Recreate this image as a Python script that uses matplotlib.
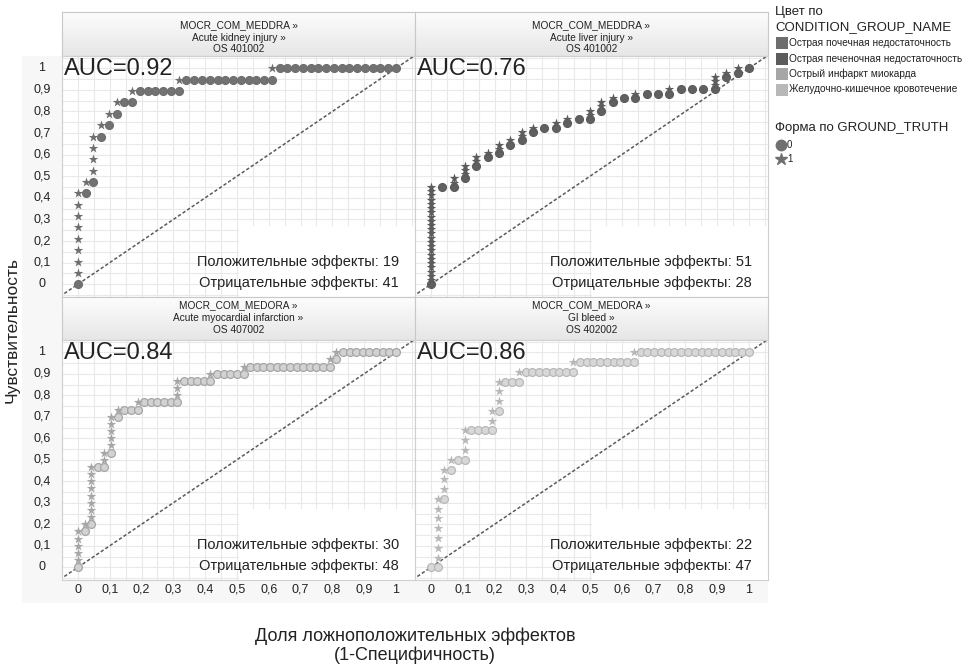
import numpy as np
import matplotlib
matplotlib.use("Agg")
import matplotlib.pyplot as plt
from matplotlib.patches import Rectangle
from matplotlib.lines import Line2D
from matplotlib.colors import LinearSegmentedColormap

plt.rcParams["font.family"] = ["Liberation Sans", "DejaVu Sans"]

# ---- data -------------------------------------------------------------
# Ranked ground truth of each condition, as (positives, negatives) runs
# in descending score order.
kidney_steps = [(8, 1), (1, 1), (4, 1), (1, 1), (1, 1), (1, 2), (1, 6), (1, 12), (1, 16)]
liver_steps = [(23, 2), (2, 1), (3, 1), (2, 1), (1, 1), (2, 1), (1, 1), (2, 1), (1, 2),
               (1, 1), (1, 2), (2, 1), (2, 1), (1, 2), (1, 3), (1, 4), (3, 1), (1, 1), (1, 1)]
mi_steps = [(5, 1), (1, 1), (8, 2), (2, 1), (5, 1), (1, 3), (1, 6), (3, 5), (1, 5),
            (1, 13), (1, 1), (1, 9)]
gi_steps = [(0, 1), (7, 1), (3, 1), (1, 2), (3, 4), (2, 1), (3, 3), (1, 8), (1, 9), (1, 17)]

panel_steps = [kidney_steps, liver_steps, mi_steps, gi_steps]
auc_values = [0.92, 0.76, 0.84, 0.86]
panel_titles = [
    ["MOCR_COM_MEDDRA \u00bb", "Acute kidney injury \u00bb", "OS 401002"],
    ["MOCR_COM_MEDDRA \u00bb", "Acute liver injury \u00bb", "OS 401002"],
    ["MOCR_COM_MEDORA \u00bb", "Acute myocardial infarction \u00bb", "OS 407002"],
    ["MOCR_COM_MEDORA \u00bb", "GI bleed \u00bb", "OS 402002"],
]
group_names = ["Острая почечная недостаточность", "Острая печеночная недостаточность",
               "Острый инфаркт миокарда", "Желудочно-кишечное кровотечение"]
group_colors = ["#6e6e6e", "#5c5c5c", "#a6a6a6", "#b8b8b8"]
circle_faces = ["#727272", "#606060", "#d2d2d2", "#d8d8d8"]
tick_values = [0, 0.1, 0.2, 0.3, 0.4, 0.5, 0.6, 0.7, 0.8, 0.9, 1]
tick_labels = ["0", "0,1", "0,2", "0,3", "0,4", "0,5", "0,6", "0,7", "0,8", "0,9", "1"]

# ---- figure -----------------------------------------------------------
W, H = 969, 664
fig = plt.figure(figsize=(W / 100, H / 100), dpi=100)


def px_axes(x0, y0, x1, y1):
    return fig.add_axes([x0 / W, 1 - y1 / H, (x1 - x0) / W, (y1 - y0) / H])


def ftext(x, y, s, **kw):
    fig.text(x / W, 1 - y / H, s, **kw)


def roc_points(steps):
    n_pos = sum(p for p, n in steps)
    n_neg = sum(n for p, n in steps)
    tp = fp = 0
    pts = [(0.0, 0.0, 0)]
    for p, n in steps:
        for _ in range(p):
            tp += 1
            pts.append((fp / n_neg, tp / n_pos, 1))
        for _ in range(n):
            fp += 1
            pts.append((fp / n_neg, tp / n_pos, 0))
    return np.array(pts), n_pos, n_neg


# light backdrop behind the tick label strips
bg = fig.add_axes([0, 0, 1, 1], zorder=-5)
bg.set_xlim(0, W)
bg.set_ylim(H, 0)
bg.axis("off")
bg.add_patch(Rectangle((22, 56), 40, 547, facecolor="#f7f7f7", edgecolor="none"))
bg.add_patch(Rectangle((62, 580), 706, 23, facecolor="#f7f7f7", edgecolor="none"))

col_x = [(62, 415), (415, 768)]
row_y = [((12, 56), (56, 297)), ((297, 340), (340, 580))]
title_pos = [(0.70, 0.42, 0.15), (0.80, 0.52, 0.24)]
grad = np.linspace(0, 1, 64).reshape(-1, 1)
hdr_cmap = LinearSegmentedColormap.from_list("hdr", ["#fdfdfd", "#e6e6e6"])

for i in range(4):
    r, c = divmod(i, 2)
    x0, x1 = col_x[c]
    (h0, h1), (p0, p1) = row_y[r]

    # facet header
    hax = px_axes(x0, h0, x1, h1)
    hax.imshow(grad, aspect="auto", cmap=hdr_cmap, extent=(0, 1, 0, 1), origin="upper")
    hax.set_xticks([])
    hax.set_yticks([])
    for s in hax.spines.values():
        s.set_color("#c8c8c8")
        s.set_linewidth(0.8)
    for j, line in enumerate(panel_titles[i]):
        hax.text(0.5, title_pos[r][j], line, ha="center", va="center",
                 fontsize=7.3, color="#222222", transform=hax.transAxes)

    # plot area
    ax = px_axes(x0, p0, x1, p1)
    ax.set_xlim(-0.05, 1.06)
    ax.set_ylim(-0.059, 1.057)
    grid = np.arange(-0.05, 1.07, 0.05)
    ax.set_xticks(grid)
    ax.set_yticks(grid)
    ax.tick_params(length=0, labelbottom=False, labelleft=False)
    ax.grid(True, color="#e9e9e9", linewidth=0.8)
    ax.set_axisbelow(True)
    for s in ax.spines.values():
        s.set_color("#d0d0d0")
        s.set_linewidth(0.8)

    ax.add_patch(Rectangle((0.5, 0.0), 0.5, 0.295, transform=ax.transAxes,
                           facecolor="white", edgecolor="none", zorder=1))
    ax.plot([-0.1, 1.1], [-0.1, 1.1], linestyle=(0, (2.2, 1.4)), color="#5a5a5a",
            linewidth=1.1, zorder=2)

    pts, n_pos, n_neg = roc_points(panel_steps[i])
    neg = pts[pts[:, 2] == 0]
    pos = pts[pts[:, 2] == 1]
    ax.scatter(neg[:, 0], neg[:, 1], s=32, marker="o", facecolor=circle_faces[i],
               edgecolor=group_colors[i], linewidth=0.9, zorder=3)
    ax.scatter(pos[:, 0], pos[:, 1], s=52, marker="*", color=group_colors[i],
               linewidth=0, zorder=4)

    ax.text(-0.045, 0.995, f"AUC={auc_values[i]:.2f}", fontsize=17, color="#222222",
            ha="left", va="center", zorder=5)
    ax.text(0.955, 0.145, f"Положительные эффекты: {n_pos}", transform=ax.transAxes,
            ha="right", va="center", fontsize=10.5, color="#222222", zorder=5)
    ax.text(0.955, 0.058, f"Отрицательные эффекты: {n_neg}", transform=ax.transAxes,
            ha="right", va="center", fontsize=10.5, color="#222222", zorder=5)

    if c == 0:
        for v, lab in zip(tick_values, tick_labels):
            ax.text((42 - x0) / (x1 - x0), v, lab, transform=ax.get_yaxis_transform(),
                    ha="center", va="center", fontsize=9, color="#222222")
    if r == 1:
        for v, lab in zip(tick_values, tick_labels):
            ax.text(v, -(590 - p1) / (p1 - p0), lab, transform=ax.get_xaxis_transform(),
                    ha="center", va="center", fontsize=9, color="#222222")

# axis titles
ftext(12, 330, "Чувствительность", rotation=90, ha="center", va="center",
      fontsize=12.5, color="#222222")
ftext(415, 636, "Доля ложноположительных эффектов", ha="center", va="center",
      fontsize=13, color="#222222")
ftext(415, 655, "(1-Специфичность)", ha="center", va="center",
      fontsize=13, color="#222222")

# legends
ftext(775, 12, "Цвет по", ha="left", va="center", fontsize=9.5, color="#222222")
ftext(775, 27, "CONDITION_GROUP_NAME", ha="left", va="center", fontsize=9.5, color="#222222")
for k, (name, col) in enumerate(zip(group_names, group_colors)):
    yy = 43 + k * 15.5
    bg.add_patch(Rectangle((776, yy - 6), 12, 12, facecolor=col, edgecolor="none"))
    ftext(789, yy, name, ha="left", va="center", fontsize=7.3, color="#222222")
ftext(775, 128, "Форма по GROUND_TRUTH", ha="left", va="center", fontsize=9.5, color="#222222")
bg.add_line(Line2D([781], [145], marker="o", markersize=7.5, color="#707070", linestyle="none"))
bg.add_line(Line2D([781], [159], marker="*", markersize=9, color="#707070", linestyle="none"))
ftext(787, 145, "0", ha="left", va="center", fontsize=7, color="#222222")
ftext(787, 159, "1", ha="left", va="center", fontsize=7, color="#222222")

fig.savefig("out.png", dpi=100, facecolor="white")
